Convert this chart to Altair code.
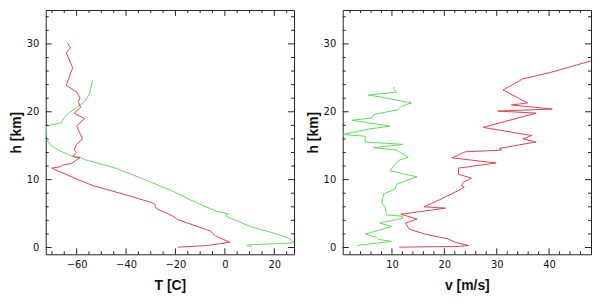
import altair as alt
import pandas as pd

# ---- data ----
# Left panel: temperature profiles (height in km, temperature in C)
h_T_red = [0.05, 0.3, 0.77, 1.7, 2.1, 2.4, 4.1, 4.7, 5.7, 6.0, 6.25, 6.6, 7.9, 9.1, 10.1, 11.7,
           11.9, 12.1, 12.4, 12.9, 13.2, 13.4, 14.0, 14.4, 15.2, 16.0, 17.9, 19.0, 19.8, 20.6,
           21.5, 22.0, 22.9, 23.9, 26.5, 28.7, 29.4, 30.1]
T_red = [-19, -7, 2, -3.7, -5, -5.7, -19, -21.4, -27.4, -28.3, -28.1, -29.4, -41.4, -53.3, -60, -70.1,
         -66.5, -66, -62, -60, -58.6, -61.5, -60, -61, -60, -57.6, -60, -56.8, -61, -58.4,
         -59.3, -58.6, -60, -64.2, -61.6, -64.2, -62.4, -63.7]

h_T_green = [0.1, 0.29, 0.39, 0.67, 0.8, 1.3, 2.0, 3.1, 4.5, 4.7, 4.96, 5.3, 6.5, 8.4, 9.8, 11.7,
             12.9, 13.3, 13.5, 14.4, 15.1, 15.5, 16.1, 17.0, 17.9, 18.4, 19.0, 19.8, 20.6, 21.5,
             22.7, 24.6]
T_green = [10.9, 8.9, 9.6, 27.6, 28.0, 26.2, 20.9, 10.3, 1.0, 0.2, 1.35, -3.0, -11, -21.7, -31, -44.3,
           -56.3, -58.6, -62.3, -67.6, -70.6, -71.4, -72.5, -72.3, -72.2, -66, -65.3, -63.3, -60, -56.7,
           -54.7, -53.6]

# Right panel: wind speed profiles (height in km, speed in m/s)
h_v_red = [0.05, 0.15, 0.3, 0.76, 1.25, 1.96, 2.7, 3.6, 4.2, 4.9, 5.8, 6.0, 7.0, 8.4, 8.9, 9.1,
           9.6, 10.2, 10.8, 11.7, 12.45, 13.2, 14.1, 14.35, 14.6, 15.55, 16.0, 16.5, 17.7, 19.8,
           20.1, 20.4, 21.0, 21.3, 23.2, 24.85, 25.8, 27.5]
v_red = [11.4, 22.5, 24.6, 22.1, 20.8, 16.4, 13.3, 12.6, 14.8, 11.7, 20.2, 16.1, 19.0, 22.7, 23.8, 23.3,
         23.6, 25.2, 22.7, 22.7, 29.9, 21.5, 24.0, 30.9, 30.5, 37.5, 35.0, 36.7, 27.4, 37.5,
         30.2, 40.6, 32.8, 35.9, 31.2, 35.0, 40.3, 48.0]

h_v_green = [0.3, 0.9, 1.2, 1.5, 1.96, 3.1, 3.6, 4.3, 4.6, 4.8, 5.05, 6.0, 6.5, 7.9, 8.6, 9.35,
             10.4, 11.3, 12.8, 13.3, 14.35, 14.7, 15.2, 15.55, 16.4, 16.65, 17.4, 17.9, 18.4, 18.75,
             19.1, 19.6, 20.3, 20.8, 21.3, 22.2, 22.46, 22.9, 23.4, 23.66]
v_green = [3.3, 9.9, 7.5, 7.1, 4.9, 9.9, 7.7, 12.0, 12.1, 9.0, 8.9, 8.7, 8.1, 8.4, 10.6, 10.9,
           14.8, 9.6, 11.2, 13.1, 10.9, 6.5, 12.1, 4.9, 4.9, 0.6, 5.2, 9.6, 5.2, 2.4,
           6.2, 6.5, 11.2, 11.8, 13.7, 7.7, 5.5, 10.9, 10.25, 10.57]

# axes
h_domain = [-1, 35]
T_domain = [-72.5, 28.0]
v_domain = [0.6, 48.0]
h_major = [0, 10, 20, 30]
h_minor = [2, 4, 6, 8, 12, 14, 16, 18, 22, 24, 26, 28, 32, 34]
T_major = [-60, -40, -20, 0, 20]
T_minor = [-70, -65, -55, -50, -45, -35, -30, -25, -15, -10, -5, 5, 10, 15, 25]
v_major = [10, 20, 30, 40]
v_minor = [2, 4, 6, 8, 12, 14, 16, 18, 22, 24, 26, 28, 32, 34, 36, 38, 42, 44, 46]

RED = "#e0404f"
GREEN = "#5ddc5d"
W, H = 250, 246
MAJ, MIN = 6, 3


def profile_frame(hs, xs, name):
    return pd.DataFrame({"h": hs, "x": xs, "series": name, "i": range(len(hs))})


def panel(red_h, red_x, green_h, green_x, xdom, xmaj, xmin, xtitle):
    df = pd.concat([profile_frame(green_h, green_x, "green"),
                    profile_frame(red_h, red_x, "red")])
    xs = alt.Scale(domain=xdom, nice=False, zero=False)
    ys = alt.Scale(domain=h_domain, nice=False, zero=False)
    xaxis = alt.Axis(values=xmaj, ticks=False, domain=False, grid=False,
                     labelPadding=5, titlePadding=9, title=xtitle)
    yaxis = alt.Axis(values=h_major, ticks=False, domain=False, grid=False,
                     labelPadding=7, titlePadding=3, title="h [km]")
    lines = alt.Chart(df).mark_line(strokeWidth=1, clip=True).encode(
        x=alt.X("x:Q", scale=xs, axis=xaxis, title=xtitle),
        y=alt.Y("h:Q", scale=ys, axis=yaxis, title="h [km]"),
        color=alt.Color("series:N", scale=alt.Scale(domain=["green", "red"], range=[GREEN, RED]),
                        legend=None),
        detail="series:N",
        order="i:Q",
    )
    layers = [lines]
    for vals, ln in ((xmaj, MAJ), (xmin, MIN)):
        d = pd.DataFrame({"t": vals})
        base = alt.Chart(d).mark_rule(color="#222", strokeWidth=1)
        layers.append(base.encode(x=alt.X("t:Q", scale=xs, axis=xaxis, title=xtitle),
                                  y=alt.value(H), y2=alt.value(H - ln)))
        layers.append(base.encode(x=alt.X("t:Q", scale=xs, axis=xaxis, title=xtitle),
                                  y=alt.value(0), y2=alt.value(ln)))
    for vals, ln in ((h_major, MAJ), (h_minor, MIN)):
        d = pd.DataFrame({"t": vals})
        base = alt.Chart(d).mark_rule(color="#222", strokeWidth=1)
        layers.append(base.encode(y=alt.Y("t:Q", scale=ys, axis=yaxis, title="h [km]"),
                                  x=alt.value(0), x2=alt.value(ln)))
        layers.append(base.encode(y=alt.Y("t:Q", scale=ys, axis=yaxis, title="h [km]"),
                                  x=alt.value(W), x2=alt.value(W - ln)))
    return alt.layer(*layers).properties(width=W, height=H)


left = panel(h_T_red, T_red, h_T_green, T_green, T_domain, T_major, T_minor, "T [C]")
right = panel(h_v_red, v_red, h_v_green, v_green, v_domain, v_major, v_minor, "v [m/s]")

chart = alt.hconcat(left, right, spacing=10).properties(
    padding={"left": 0, "top": 0, "right": 0, "bottom": 0}
).configure_view(
    stroke="#222", strokeWidth=1
).configure_axis(
    labelFont="DejaVu Sans", labelFontSize=10, labelColor="#111",
    titleFont="Liberation Sans", titleFontSize=14, titleFontWeight="bold", titleColor="#111",
)

chart.save("out.html", embed_options={"renderer": "svg", "actions": False})
